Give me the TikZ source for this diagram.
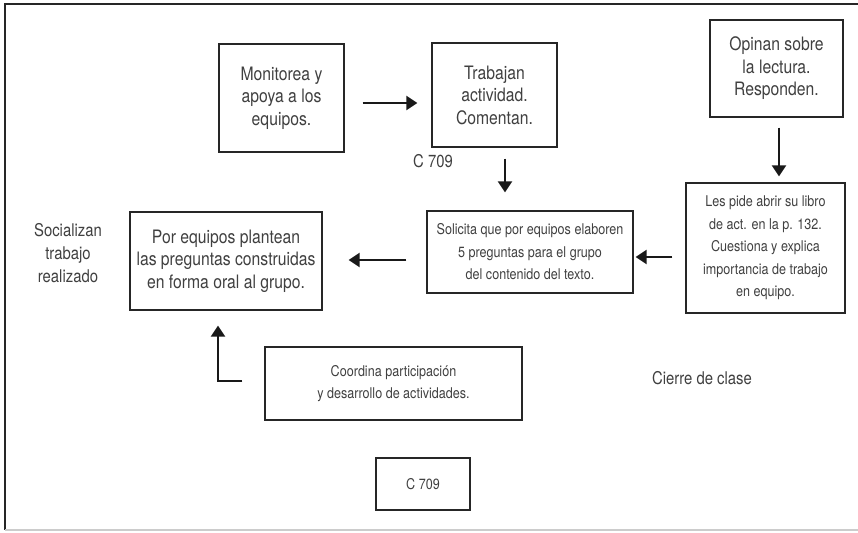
\documentclass[tikz,border=0pt]{standalone}
\usepackage{fontspec}
\setmainfont{TeX Gyre Heros}[FakeStretch=0.85]
\usetikzlibrary{arrows.meta}
\begin{document}
\begin{tikzpicture}[x=1pt,y=-1pt,
  box/.style={draw=black!85,line width=1.2pt,inner sep=0pt,align=center,text=black!75},
  bigtxt/.style={font=\fontsize{18.5}{22.5}\selectfont},
  smalltxt/.style={font=\fontsize{14.8}{22.5}\selectfont},
  lbl/.style={inner sep=0pt,align=center,text=black!75,font=\fontsize{17.5}{23}\selectfont},
  arr/.style={line width=2.2pt,draw=black!90,-{Triangle[length=11pt,width=14pt]}}]
\useasboundingbox (0,0) rectangle (858,532);
\draw[line width=1.2pt,black!85] (858,4) -- (5,4) -- (5,530);
\draw[line width=1.2pt,black!20] (5,530) -- (858,530);

\node[box,bigtxt,minimum width=125pt,minimum height=108pt] (mon) at (281.5,98) {Monitorea y\\apoya a los\\equipos.};
\node[box,bigtxt,minimum width=125pt,minimum height=104pt] (trab) at (494.5,95) {Trabajan\\actividad.\\Comentan.};
\node[box,bigtxt,minimum width=133pt,minimum height=97pt] (opin) at (776.5,68.5) {Opinan sobre\\la lectura.\\Responden.};
\node[box,smalltxt,minimum width=159pt,minimum height=130pt] (pide) at (765.5,248) {Les pide abrir su libro\\de act. en la p. 132.\\Cuestiona y explica\\importancia de trabajo\\en equipo.};
\node[box,smalltxt,minimum width=206pt,minimum height=82pt] (soli) at (530,252) {Solicita que por equipos elaboren\\5 preguntas para el grupo\\del contenido del texto.};
\node[box,bigtxt,minimum width=192pt,minimum height=98pt] (por) at (226,261) {Por equipos plantean\\las preguntas construidas\\en forma oral al grupo.};
\node[box,smalltxt,minimum width=257pt,minimum height=73pt] (coord) at (393.5,383.5) {Coordina participación\\y desarrollo de actividades.};
\node[box,smalltxt,minimum width=94pt,minimum height=52pt] (cbox) at (423,484) {C 709};

\node[lbl] (c709) at (433,161) {C 709};
\node[lbl] (soc) at (68,253) {Socializan\\trabajo\\realizado};
\node[lbl] (cierre) at (702,378) {Cierre de clase};

\draw[arr] ([shift={(18,5)}]mon.east) -- ([shift={(-14,8)}]trab.west);
\draw[arr] ([shift={(10.5,11)}]trab.south) -- ([shift={(-25,-18)}]soli.north);
\draw[arr] ([shift={(2.5,10)}]opin.south) -- ([shift={(13.5,-6)}]pide.north);
\draw[arr] ([shift={(-13,9)}]pide.west) -- ([shift={(2,5)}]soli.east);
\draw[arr] ([shift={(-20,8)}]soli.west) -- ([shift={(26,-1)}]por.east);
\draw[arr] ([shift={(-22,-2.5)}]coord.west) -| ([shift={(-8,15)}]por.south);
\end{tikzpicture}
\end{document}
